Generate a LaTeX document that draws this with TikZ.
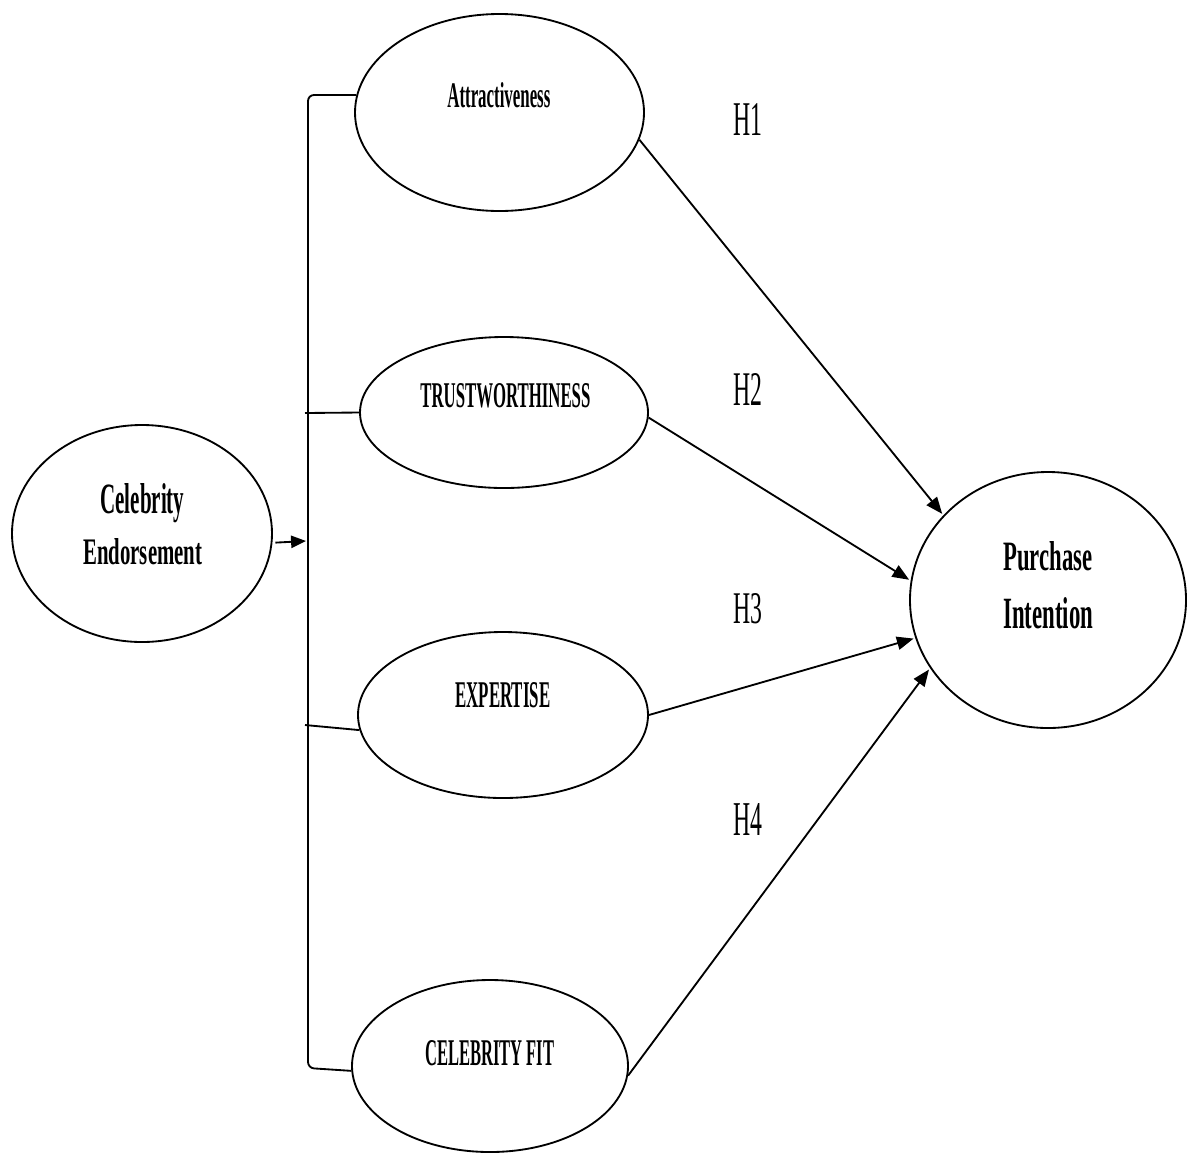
\documentclass[tikz,border=0pt]{standalone}
\usepackage{fontspec}
\setmainfont{Liberation Serif}
\usetikzlibrary{arrows.meta,shapes.geometric}
\newlength\pxu
\setlength\pxu{0.02cm}
\newcommand\fittext[4]{\resizebox{#1\pxu}{#2\pxu}{#3{#4}}}
\begin{document}
\begin{tikzpicture}[x=0.02cm,y=-0.02cm,
  ell/.style={draw, ellipse, line width=1.05pt, inner sep=0pt},
  lbl/.style={anchor=base west, inner sep=0pt},
  conn/.style={line width=1.05pt},
  arr/.style={line width=1.05pt, -{Triangle[length=9.5pt,width=7.5pt]}, shorten >=1pt}]
\useasboundingbox (0,0) rectangle (1189,1157);
% ellipses
\node[ell, minimum width=260\pxu, minimum height=217\pxu] (ce) at (142,533.5) {};
\node[ell, minimum width=289\pxu, minimum height=197\pxu] (attr) at (499.5,112.5) {};
\node[ell, minimum width=288\pxu, minimum height=151\pxu] (trust) at (504,412.5) {};
\node[ell, minimum width=290\pxu, minimum height=166\pxu] (exp) at (503,715) {};
\node[ell, minimum width=276\pxu, minimum height=172\pxu] (fit) at (490,1066) {};
\node[ell, minimum width=276\pxu, minimum height=256\pxu] (pi) at (1048,600) {};
% labels
\node[lbl] (tce1) at (100,513) {\fittext{84}{30}{\textbf}{Celebrity}};
\node[lbl] (tce2) at (83,564) {\fittext{119}{26}{\textbf}{Endorsement}};
\node[lbl] (tattr) at (447,107) {\fittext{103}{25}{\textbf}{Attractiveness}};
\node[lbl] (ttrust) at (420,407) {\fittext{170}{24}{\textbf}{TRUSTWORTHINESS}};
\node[lbl] (texp) at (455,707) {\fittext{95}{25}{\textbf}{EXPERTISE}};
\node[lbl] (tfit) at (425,1065) {\fittext{129}{25}{\textbf}{CELEBRITY FIT}};
\node[lbl] (tpi1) at (1003,570) {\fittext{89}{29}{\textbf}{Purchase}};
\node[lbl] (tpi2) at (1003,628) {\fittext{90}{31}{\textbf}{Intention}};
\node[lbl] (h1) at (733,135) {\fittext{29}{32}{\relax}{H1}};
\node[lbl] (h2) at (733,405) {\fittext{29}{32}{\relax}{H2}};
\node[lbl] (h3) at (733,623) {\fittext{29}{30}{\relax}{H3}};
\node[lbl] (h4) at (733,835) {\fittext{29}{32}{\relax}{H4}};
% bracket
\coordinate (bt) at (308,95);
\coordinate (bb) at (308,1068);
\coordinate (bm) at (306,541);
\coordinate (b2) at (305,413);
\coordinate (b3) at (305,725);
\draw[conn, rounded corners=6\pxu] (attr.173) -- (bt) -- (bb) -- (fit.182);
\draw[conn] (b2) -- (trust.west);
\draw[conn] (b3) -- (exp.186);
\draw[arr, shorten >=0pt, -{Triangle[length=8.5pt,width=7pt]}] ([xshift=3\pxu]ce.-4) -- (bm);
% hypotheses arrows
\draw[arr] (attr.-11) -- (pi.141.5);
\draw[arr] (trust.-2.7) -- (pi.172);
\draw[arr] (exp.0) -- (pi.196);
\draw[arr] (fit.-4) -- (pi.210.5);
\end{tikzpicture}
\end{document}
